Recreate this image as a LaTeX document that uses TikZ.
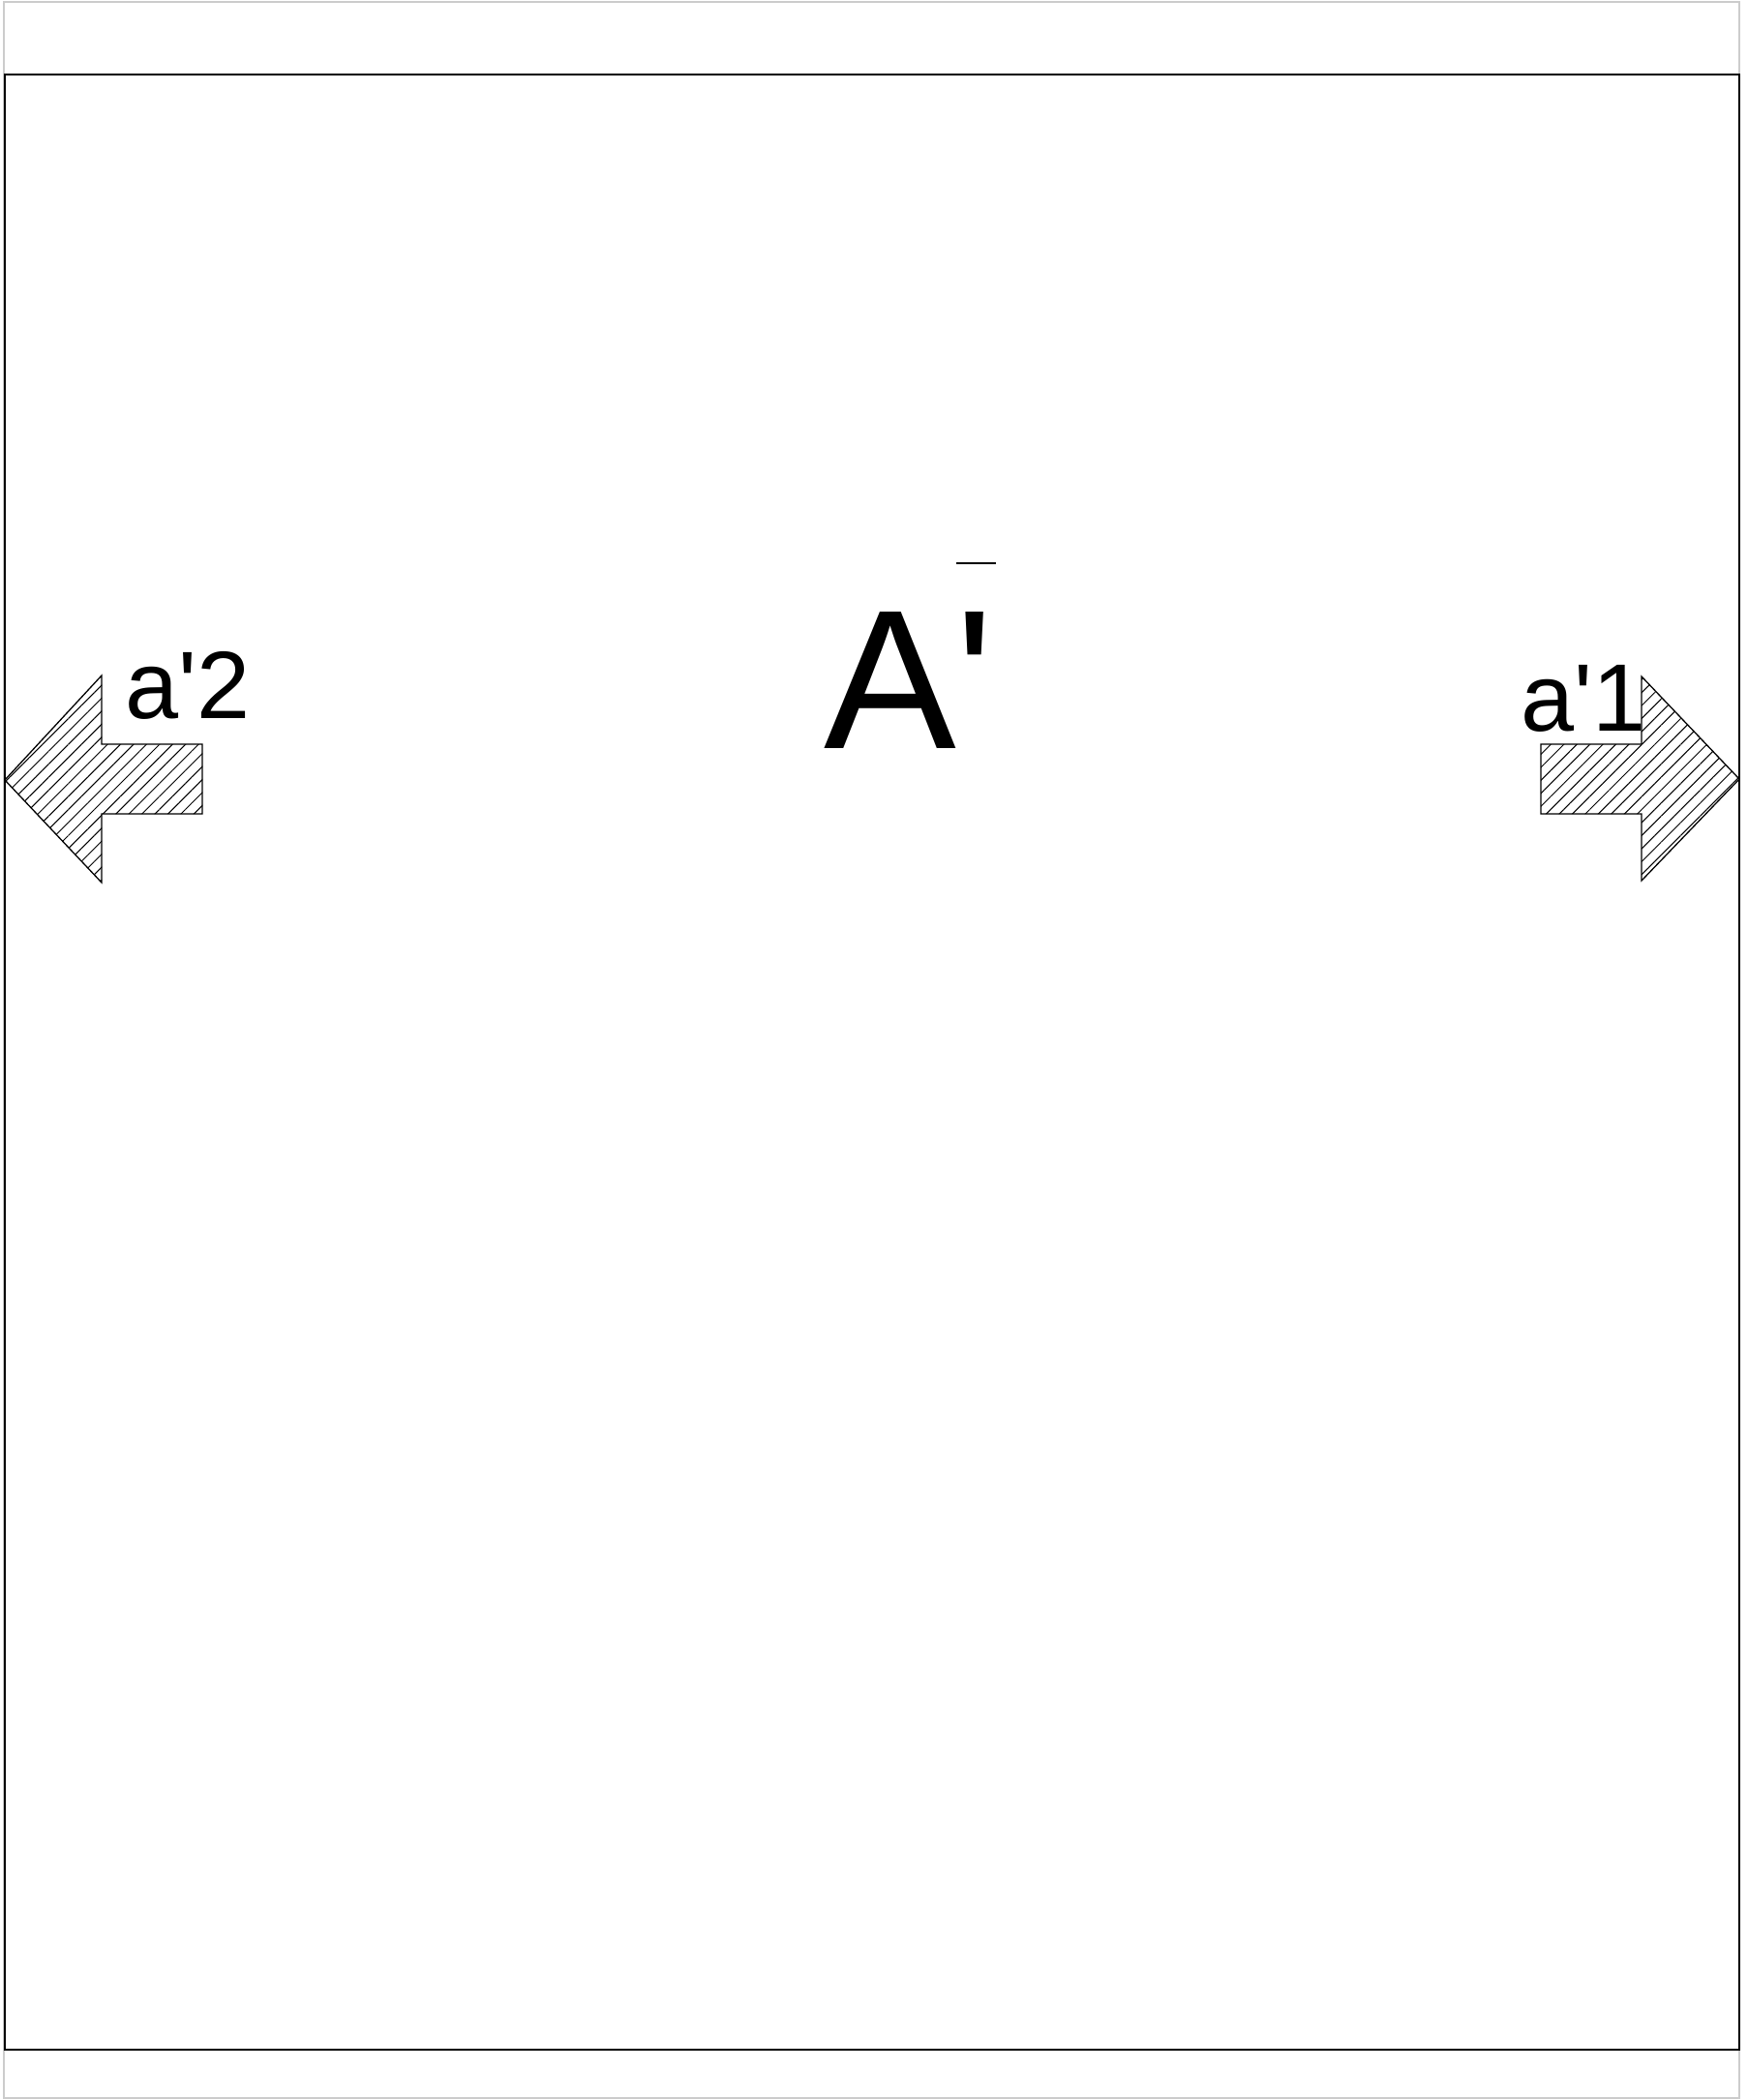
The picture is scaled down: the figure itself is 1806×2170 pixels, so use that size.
\documentclass[tikz,border=0pt]{standalone}
\usepackage{fontspec}
\setmainfont{Liberation Sans}[Ligatures=TeXOff]
\usetikzlibrary{patterns.meta}
\begin{document}
\begin{tikzpicture}[x=1pt,y=-1pt,
  frame/.style={draw=black,line width=2pt},
  outerframe/.style={draw=black!20,line width=1.2pt},
  hatcharrow/.style={draw=black,line width=1.3pt,line join=miter,
    pattern={Lines[angle=45,distance=9.5pt,line width=1pt]},pattern color=black},
  lbl/.style={anchor=base west,inner sep=0pt,font=\fontsize{99}{99}\selectfont},
  big/.style={anchor=base west,inner sep=0pt,font=\fontsize{205}{205}\selectfont}]
\useasboundingbox (0,0) rectangle (1806,2170);
\fill[white] (0,0) rectangle (1806,2170);
\draw[outerframe] (4,2) rectangle (1797,2168);
\draw[frame] (5,77) rectangle (1797,2118);
% left arrow
\draw[hatcharrow] (5,806) -- (105,698) -- (105,769) -- (209,769) -- (209,841) -- (105,841) -- (105,912) -- cycle;
% right arrow
\draw[hatcharrow] (1797,805) -- (1696,699) -- (1696,769) -- (1592,769) -- (1592,841) -- (1696,841) -- (1696,910) -- cycle;
\node[lbl] (a2) at (129,742) {a'2};
\node[lbl] (a1) at (1571,755) {a'1};
\node[big] (A) at (851,773) {A'};
\draw[line width=1.5pt] (988,582) -- (1029,582);
\end{tikzpicture}
\end{document}
